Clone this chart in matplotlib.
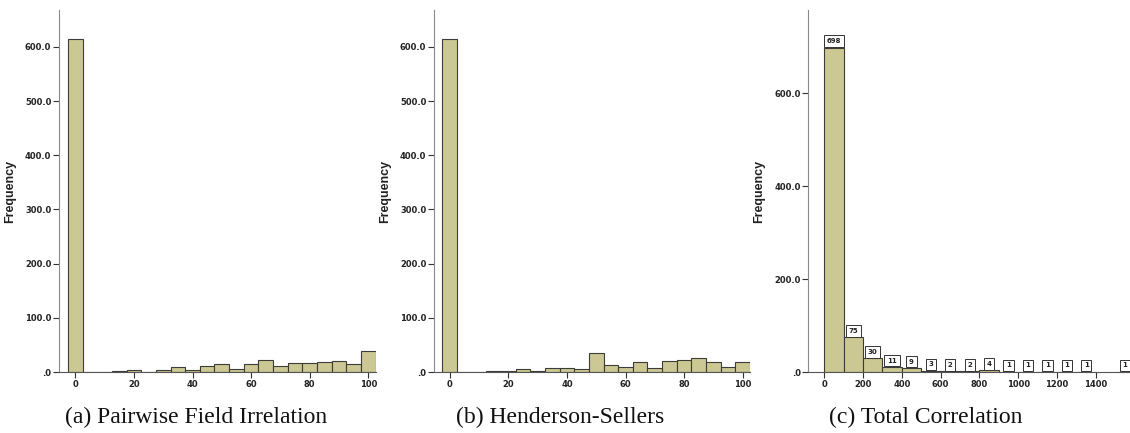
import numpy as np
import matplotlib
matplotlib.use("Agg")
import matplotlib.pyplot as plt
from matplotlib.ticker import FixedLocator

# bin centres (width 5) and counts for the two percentage metrics
pct_centers = [0, 5, 10, 15, 20, 25, 30, 35, 40, 45, 50, 55, 60, 65, 70, 75, 80, 85, 90, 95, 100]
pfi_counts = [614, 0, 0, 2, 3, 0, 3, 10, 4, 11, 15, 6, 15, 22, 11, 17, 16, 18, 21, 14, 39]
hs_counts = [614, 0, 0, 1, 2, 6, 2, 7, 7, 5, 35, 12, 9, 18, 7, 21, 23, 26, 18, 10, 18]

# total correlation: bins of width 100
tc_left = [0, 100, 200, 300, 400, 500, 600, 700, 800, 900, 1000, 1100, 1200, 1300, 1500]
tc_counts = [698, 75, 30, 11, 9, 3, 2, 2, 4, 1, 1, 1, 1, 1, 1]

captions = ["(a) Pairwise Field Irrelation", "(b) Henderson-Sellers", "(c) Total Correlation"]

BAR = "#ccc894"
EDGE = "#3c3c38"
W, H = 1130, 433

fig = plt.figure(figsize=(W / 100, H / 100), dpi=100)


def px_axes(left, right, bottom, top):
    # axes placed in pixel units (top measured from the top of the image)
    return fig.add_axes([left / W, (H - bottom) / H, (right - left) / W, (bottom - top) / H])


def style(ax, yticks):
    for s in ["top", "right"]:
        ax.spines[s].set_visible(False)
    ax.spines["left"].set_color("#8a8a8a")
    ax.spines["bottom"].set_color("#555555")
    ax.spines["left"].set_linewidth(0.8)
    ax.spines["bottom"].set_linewidth(0.8)
    ax.yaxis.set_major_locator(FixedLocator(yticks))
    ax.set_yticklabels([".0" if t == 0 else f"{t:.1f}" for t in yticks])
    ax.tick_params(axis="both", length=4, width=0.8, color="#333333", labelsize=6,
                   labelcolor="#222222", pad=1.5)
    for lab in ax.get_xticklabels() + ax.get_yticklabels():
        lab.set_fontweight("bold")
        lab.set_family("DejaVu Sans")
    ax.set_ylabel("Frequency", fontsize=9, fontweight="bold", family="Liberation Sans",
                  color="#222222", labelpad=6)


# (a) and (b): same layout, different counts
for counts, (left, right), zero_px in [(pfi_counts, (59, 376), 75.3),
                                       (hs_counts, (434, 750), 449.7)]:
    ax = px_axes(left, right, 372, 10)
    ax.bar(pct_centers, counts, width=5, color=BAR, edgecolor=EDGE, linewidth=0.8)
    scale = 2.93
    ax.set_xlim((left - zero_px) / scale, (right - zero_px) / scale)
    ax.set_ylim(0, 668)
    ax.set_xticks([0, 20, 40, 60, 80, 100])
    style(ax, [0, 100, 200, 300, 400, 500, 600])
    ax.yaxis.set_label_coords(-0.135, 0.5)

# (c) total correlation with count labels above each bar
ax = px_axes(808.3, 1130, 372.3, 10)
ax.bar(tc_left, tc_counts, width=100, align="edge", color=BAR, edgecolor=EDGE, linewidth=0.8)
ax.set_xlim(-82, 1576)
ax.set_ylim(0, 779)
ax.set_xticks([0, 200, 400, 600, 800, 1000, 1200, 1400])
style(ax, [0, 200, 400, 600])
ax.yaxis.set_label_coords(-0.135, 0.5)
for x0, c in zip(tc_left, tc_counts):
    ax.annotate(str(c), (x0 + 50, c), xytext=(0, 2.5), textcoords="offset points",
                ha="center", va="bottom", fontsize=5, fontweight="bold",
                family="DejaVu Sans", color="#222222", clip_on=False,
                bbox=dict(boxstyle="square,pad=0.4", fc="white", ec="#333333", lw=0.7))

# captions under each panel
for cx, text in zip([196, 560, 926], captions):
    fig.text(cx / W, 16 / H, text, ha="center", va="center", fontsize=17,
             family="Liberation Serif", color="#111111")

fig.savefig("out.png", dpi=100, facecolor="white")
